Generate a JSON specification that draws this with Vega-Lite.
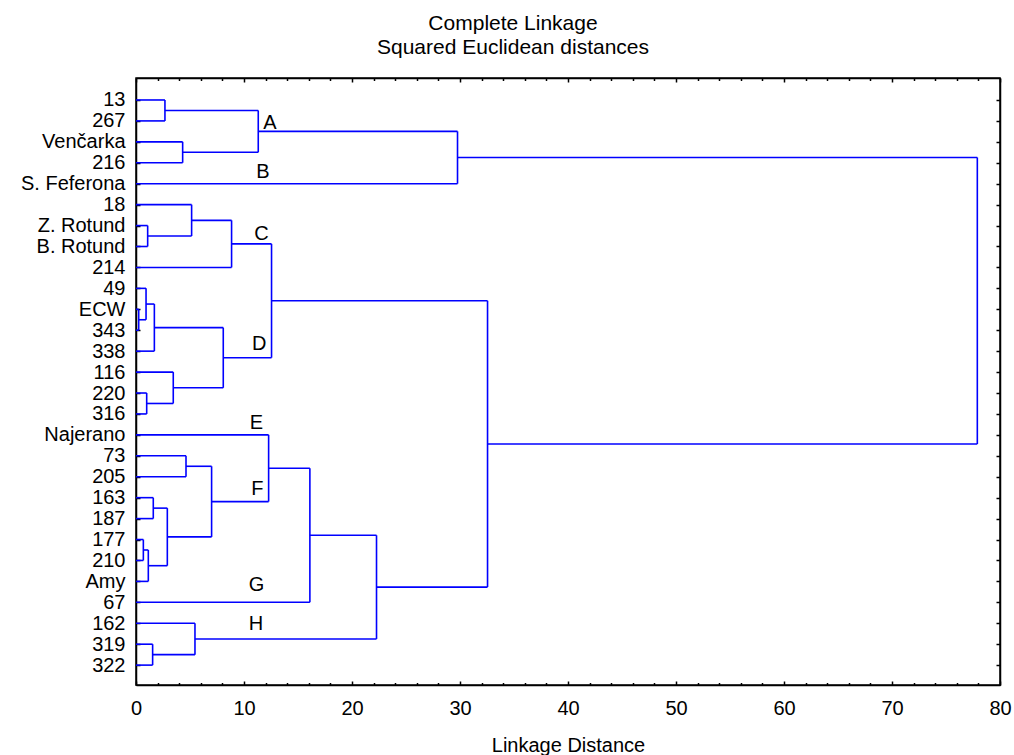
{
  "$schema": "https://vega.github.io/schema/vega-lite/v6.json",
  "width": 864,
  "height": 607,
  "autosize": {"type": "none"},
  "padding": {"left": 136, "top": 78, "right": 14, "bottom": 70},
  "background": "white",
  "config": {
    "font": "Liberation Sans",
    "view": {"stroke": "black", "strokeWidth": 1.5},
    "axis": {"grid": false, "domainColor": "black", "domainWidth": 1.5, "tickColor": "black", "tickWidth": 1.5, "labelColor": "black", "titleColor": "black", "labelFont": "Liberation Sans", "titleFont": "Liberation Sans", "labelFontSize": 20, "titleFontSize": 20, "titleFontWeight": "normal"}
  },
  "title": {
    "text": ["Complete Linkage", "Squared Euclidean distances"],
    "font": "Liberation Sans",
    "fontSize": 21,
    "fontWeight": "normal",
    "color": "black",
    "lineHeight": 24,
    "anchor": "middle",
    "frame": "group",
    "baseline": "bottom",
    "offset": -2,
    "dx": -55
  },
  "datasets": {
    "segments": [
      {"x": 2.68, "x2": 2.68, "y": 0, "y2": 1}, {"x": 0, "x2": 2.68, "y": 0, "y2": 0}, {"x": 0, "x2": 2.68, "y": 1, "y2": 1},
      {"x": 4.32, "x2": 4.32, "y": 2, "y2": 3}, {"x": 0, "x2": 4.32, "y": 2, "y2": 2}, {"x": 0, "x2": 4.32, "y": 3, "y2": 3},
      {"x": 11.32, "x2": 11.32, "y": 0.5, "y2": 2.5}, {"x": 2.68, "x2": 11.32, "y": 0.5, "y2": 0.5}, {"x": 4.32, "x2": 11.32, "y": 2.5, "y2": 2.5},
      {"x": 29.77, "x2": 29.77, "y": 1.5, "y2": 4}, {"x": 11.32, "x2": 29.77, "y": 1.5, "y2": 1.5}, {"x": 0, "x2": 29.77, "y": 4, "y2": 4},
      {"x": 1.08, "x2": 1.08, "y": 6, "y2": 7}, {"x": 0, "x2": 1.08, "y": 6, "y2": 6}, {"x": 0, "x2": 1.08, "y": 7, "y2": 7},
      {"x": 5.15, "x2": 5.15, "y": 5, "y2": 6.5}, {"x": 0, "x2": 5.15, "y": 5, "y2": 5}, {"x": 1.08, "x2": 5.15, "y": 6.5, "y2": 6.5},
      {"x": 8.85, "x2": 8.85, "y": 5.75, "y2": 8}, {"x": 5.15, "x2": 8.85, "y": 5.75, "y2": 5.75}, {"x": 0, "x2": 8.85, "y": 8, "y2": 8},
      {"x": 0.25, "x2": 0.25, "y": 10, "y2": 11}, {"x": 0, "x2": 0.25, "y": 10, "y2": 10}, {"x": 0, "x2": 0.25, "y": 11, "y2": 11},
      {"x": 0.93, "x2": 0.93, "y": 9, "y2": 10.5}, {"x": 0, "x2": 0.93, "y": 9, "y2": 9}, {"x": 0.25, "x2": 0.93, "y": 10.5, "y2": 10.5},
      {"x": 1.7, "x2": 1.7, "y": 9.75, "y2": 12}, {"x": 0.93, "x2": 1.7, "y": 9.75, "y2": 9.75}, {"x": 0, "x2": 1.7, "y": 12, "y2": 12},
      {"x": 0.99, "x2": 0.99, "y": 14, "y2": 15}, {"x": 0, "x2": 0.99, "y": 14, "y2": 14}, {"x": 0, "x2": 0.99, "y": 15, "y2": 15},
      {"x": 3.45, "x2": 3.45, "y": 13, "y2": 14.5}, {"x": 0, "x2": 3.45, "y": 13, "y2": 13}, {"x": 0.99, "x2": 3.45, "y": 14.5, "y2": 14.5},
      {"x": 8.08, "x2": 8.08, "y": 10.875, "y2": 13.75}, {"x": 1.7, "x2": 8.08, "y": 10.875, "y2": 10.875}, {"x": 3.45, "x2": 8.08, "y": 13.75, "y2": 13.75},
      {"x": 12.55, "x2": 12.55, "y": 6.875, "y2": 12.3125}, {"x": 8.85, "x2": 12.55, "y": 6.875, "y2": 6.875}, {"x": 8.08, "x2": 12.55, "y": 12.3125, "y2": 12.3125},
      {"x": 4.63, "x2": 4.63, "y": 17, "y2": 18}, {"x": 0, "x2": 4.63, "y": 17, "y2": 17}, {"x": 0, "x2": 4.63, "y": 18, "y2": 18},
      {"x": 1.6, "x2": 1.6, "y": 19, "y2": 20}, {"x": 0, "x2": 1.6, "y": 19, "y2": 19}, {"x": 0, "x2": 1.6, "y": 20, "y2": 20},
      {"x": 0.68, "x2": 0.68, "y": 21, "y2": 22}, {"x": 0, "x2": 0.68, "y": 21, "y2": 21}, {"x": 0, "x2": 0.68, "y": 22, "y2": 22},
      {"x": 1.14, "x2": 1.14, "y": 21.5, "y2": 23}, {"x": 0.68, "x2": 1.14, "y": 21.5, "y2": 21.5}, {"x": 0, "x2": 1.14, "y": 23, "y2": 23},
      {"x": 2.9, "x2": 2.9, "y": 19.5, "y2": 22.25}, {"x": 1.6, "x2": 2.9, "y": 19.5, "y2": 19.5}, {"x": 1.14, "x2": 2.9, "y": 22.25, "y2": 22.25},
      {"x": 7.0, "x2": 7.0, "y": 17.5, "y2": 20.875}, {"x": 4.63, "x2": 7.0, "y": 17.5, "y2": 17.5}, {"x": 2.9, "x2": 7.0, "y": 20.875, "y2": 20.875},
      {"x": 12.28, "x2": 12.28, "y": 16, "y2": 19.1875}, {"x": 0, "x2": 12.28, "y": 16, "y2": 16}, {"x": 7.0, "x2": 12.28, "y": 19.1875, "y2": 19.1875},
      {"x": 16.1, "x2": 16.1, "y": 17.59375, "y2": 24}, {"x": 12.28, "x2": 16.1, "y": 17.59375, "y2": 17.59375}, {"x": 0, "x2": 16.1, "y": 24, "y2": 24},
      {"x": 1.54, "x2": 1.54, "y": 26, "y2": 27}, {"x": 0, "x2": 1.54, "y": 26, "y2": 26}, {"x": 0, "x2": 1.54, "y": 27, "y2": 27},
      {"x": 5.46, "x2": 5.46, "y": 25, "y2": 26.5}, {"x": 0, "x2": 5.46, "y": 25, "y2": 25}, {"x": 1.54, "x2": 5.46, "y": 26.5, "y2": 26.5},
      {"x": 22.27, "x2": 22.27, "y": 20.796875, "y2": 25.75}, {"x": 16.1, "x2": 22.27, "y": 20.796875, "y2": 20.796875}, {"x": 5.46, "x2": 22.27, "y": 25.75, "y2": 25.75},
      {"x": 32.55, "x2": 32.55, "y": 9.59375, "y2": 23.2734375}, {"x": 12.55, "x2": 32.55, "y": 9.59375, "y2": 9.59375}, {"x": 22.27, "x2": 32.55, "y": 23.2734375, "y2": 23.2734375},
      {"x": 77.9, "x2": 77.9, "y": 2.75, "y2": 16.43359375}, {"x": 29.77, "x2": 77.9, "y": 2.75, "y2": 2.75}, {"x": 32.55, "x2": 77.9, "y": 16.43359375, "y2": 16.43359375}
    ],
    "clusters": [
      {"label": "A", "x": 12.4, "y": 1.39},
      {"label": "B", "x": 11.75, "y": 3.73},
      {"label": "C", "x": 11.62, "y": 6.69},
      {"label": "D", "x": 11.4, "y": 11.95},
      {"label": "E", "x": 11.16, "y": 15.72},
      {"label": "F", "x": 11.23, "y": 18.87},
      {"label": "G", "x": 11.17, "y": 23.46},
      {"label": "H", "x": 11.1, "y": 25.32}
    ]
  },
  "layer": [
    {
      "data": {"name": "segments"},
      "mark": {"type": "rule", "color": "#0000ff", "strokeWidth": 1.6},
      "encoding": {
        "x": {
          "field": "x", "type": "quantitative",
          "scale": {"domain": [0, 80], "nice": false, "zero": false},
          "axis": {
            "orient": "bottom",
            "title": "Linkage Distance",
            "values": [0,2,4,6,8,10,12,14,16,18,20,22,24,26,28,30,32,34,36,38,40,42,44,46,48,50,52,54,56,58,60,62,64,66,68,70,72,74,76,78,80],
            "labelExpr": "datum.value % 10 === 0 ? datum.label : ''",
            "tickSize": {"condition": {"test": "datum.value % 10 === 0", "value": -4}, "value": -2.5},
            "labelPadding": 17,
            "labelFlush": false,
            "labelOverlap": false,
            "titlePadding": 16
          }
        },
        "x2": {"field": "x2"},
        "y": {
          "field": "y", "type": "quantitative",
          "scale": {"domain": [-1.05, 27.95], "reverse": true, "nice": false, "zero": false},
          "axis": {
            "orient": "left",
            "title": null,
            "values": [0,1,2,3,4,5,6,7,8,9,10,11,12,13,14,15,16,17,18,19,20,21,22,23,24,25,26,27],
            "labelExpr": "['13','267','Venčarka','216','S. Feferona','18','Z. Rotund','B. Rotund','214','49','ECW','343','338','116','220','316','Najerano','73','205','163','187','177','210','Amy','67','162','319','322'][datum.value]",
            "tickSize": -4,
            "labelPadding": 15,
            "labelFlush": false,
            "labelOverlap": false
          }
        },
        "y2": {"field": "y2"}
      }
    },
    {
      "data": {"name": "clusters"},
      "mark": {"type": "text", "fontSize": 20, "font": "Liberation Sans", "color": "black", "align": "center", "baseline": "alphabetic"},
      "encoding": {
        "x": {
          "field": "x", "type": "quantitative",
          "axis": {
            "orient": "top",
            "title": null,
            "labels": false,
            "values": [0,2,4,6,8,10,12,14,16,18,20,22,24,26,28,30,32,34,36,38,40,42,44,46,48,50,52,54,56,58,60,62,64,66,68,70,72,74,76,78,80],
            "tickSize": {"condition": {"test": "datum.value % 10 === 0", "value": -4}, "value": -2.5}
          }
        },
        "y": {
          "field": "y", "type": "quantitative",
          "axis": {
            "orient": "right",
            "title": null,
            "labels": false,
            "values": [0,1,2,3,4,5,6,7,8,9,10,11,12,13,14,15,16,17,18,19,20,21,22,23,24,25,26,27],
            "tickSize": -4
          }
        },
        "text": {"field": "label", "type": "nominal"}
      }
    }
  ],
  "resolve": {"axis": {"x": "independent", "y": "independent"}}
}
